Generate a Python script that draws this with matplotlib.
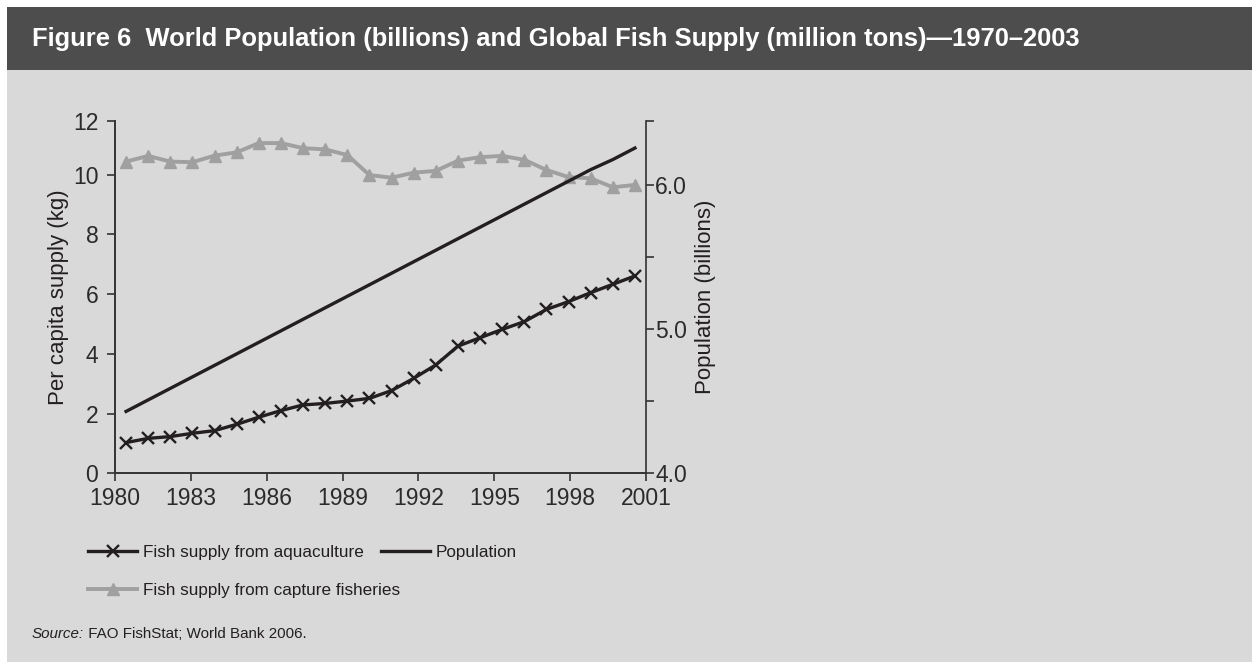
import numpy as np
import matplotlib
matplotlib.use("Agg")
import matplotlib.pyplot as plt
from matplotlib.patches import Rectangle

W, H = 1252, 662

years = list(range(1980, 2004))
aquaculture = [1.03, 1.17, 1.23, 1.34, 1.43, 1.64, 1.88, 2.10, 2.29, 2.34, 2.42, 2.51,
               2.77, 3.18, 3.63, 4.26, 4.54, 4.82, 5.08, 5.49, 5.75, 6.05, 6.33, 6.61]
capture = [10.44, 10.63, 10.44, 10.42, 10.64, 10.75, 11.06, 11.06, 10.89, 10.85, 10.66, 9.99,
           9.90, 10.07, 10.13, 10.47, 10.59, 10.63, 10.50, 10.16, 9.92, 9.88, 9.58, 9.66]
population = [4.43, 4.51, 4.59, 4.67, 4.75, 4.83, 4.91, 4.99, 5.07, 5.15, 5.23, 5.31,
              5.39, 5.47, 5.55, 5.63, 5.71, 5.79, 5.87, 5.95, 6.03, 6.11, 6.18, 6.26]

xtick_labels = ["1980", "1983", "1986", "1989", "1992", "1995", "1998", "2001"]
left_ticks = [0, 2, 4, 6, 8, 10, 11.81]
left_labels = ["0", "2", "4", "6", "8", "10", "12"]
right_ticks = [4.0, 4.5, 5.0, 5.5, 6.0, 6.45]
right_labels = ["4.0", "", "5.0", "", "6.0", ""]

title = "Figure 6  World Population (billions) and Global Fish Supply (million tons)\u20141970\u20132003"

plt.rcParams["font.family"] = ["Liberation Sans", "DejaVu Sans"]

ink = "#231f20"
grey = "#a0a0a0"

fig = plt.figure(figsize=(W / 100, H / 100), dpi=100)
fig.patch.set_facecolor("white")
# light panel + dark title band behind everything
fig.patches.append(Rectangle((7 / W, 0), 1 - 7 / W, 1 - 70 / H, transform=fig.transFigure,
                             facecolor="#d9d9d9", edgecolor="none", zorder=-5))
fig.patches.append(Rectangle((7 / W, 1 - 70 / H), 1 - 7 / W, 63 / H, transform=fig.transFigure,
                             facecolor="#4d4d4d", edgecolor="none", zorder=-5))
fig.text(32 / W, 1 - 46 / H, title, color="white", fontsize=18.4, fontweight="bold",
         va="baseline", ha="left")

ax = fig.add_axes([115 / W, 1 - 473.3 / H, 531 / W, 352.6 / H])
ax.patch.set_visible(False)
x = np.arange(len(years))

l_cap, = ax.plot(x, capture, color=grey, lw=2.8, marker="^", ms=8, mec=grey, mfc=grey)
l_aq, = ax.plot(x, aquaculture, color=ink, lw=2.4, marker="x", ms=9, mew=1.7)
ax.set_xlim(-0.5, len(years) - 0.5)
ax.set_ylim(0, 11.81)
ax.set_xticks(np.linspace(-0.5, len(years) - 0.5, len(xtick_labels)))
ax.set_xticklabels(xtick_labels)
ax.set_yticks(left_ticks)
ax.set_yticklabels(left_labels)
ax.set_ylabel("Per capita supply (kg)", fontsize=16, color=ink, labelpad=3)

ax2 = ax.twinx()
l_pop, = ax2.plot(x, population, color=ink, lw=2.4)
ax2.set_ylim(4.0, 6.45)
ax2.set_yticks(right_ticks)
ax2.set_yticklabels(right_labels)
ax2.set_ylabel("Population (billions)", fontsize=16, color=ink, labelpad=6)

for a in (ax, ax2):
    a.spines["top"].set_visible(False)
    for s in a.spines.values():
        s.set_color("#333333")
        s.set_linewidth(1.2)
    a.tick_params(direction="out", length=6, width=1.2, color="#333333",
                  labelsize=16.5, labelcolor="#2b2b2b")
ax.spines["right"].set_visible(False)
ax.tick_params(axis="y", pad=6)
ax.tick_params(axis="x", pad=4)
ax2.tick_params(axis="y", pad=0.5)

lk = dict(frameon=False, handlelength=2.87, handletextpad=0.35,
          columnspacing=1.0, borderpad=0, borderaxespad=0, loc="center left",
          prop={"size": 12.3}, labelcolor=ink, numpoints=1)
fig.legend([l_aq, l_pop], ["Fish supply from aquaculture", "Population"], ncol=2,
           bbox_to_anchor=(88 / W, 1 - 552 / H), **lk)
fig.legend([l_cap], ["Fish supply from capture fisheries"],
           bbox_to_anchor=(88 / W, 1 - 590 / H), **lk)

r = fig.canvas.get_renderer()
t1 = fig.text(32 / W, 1 - 638 / H, "Source:", fontsize=10.9, style="italic",
              color=ink, va="baseline")
bb = t1.get_window_extent(r)
fig.text(bb.x1 / W, 1 - 638 / H, " FAO FishStat; World Bank 2006.", fontsize=10.9,
         color=ink, va="baseline")

fig.savefig("out.png", dpi=100)
